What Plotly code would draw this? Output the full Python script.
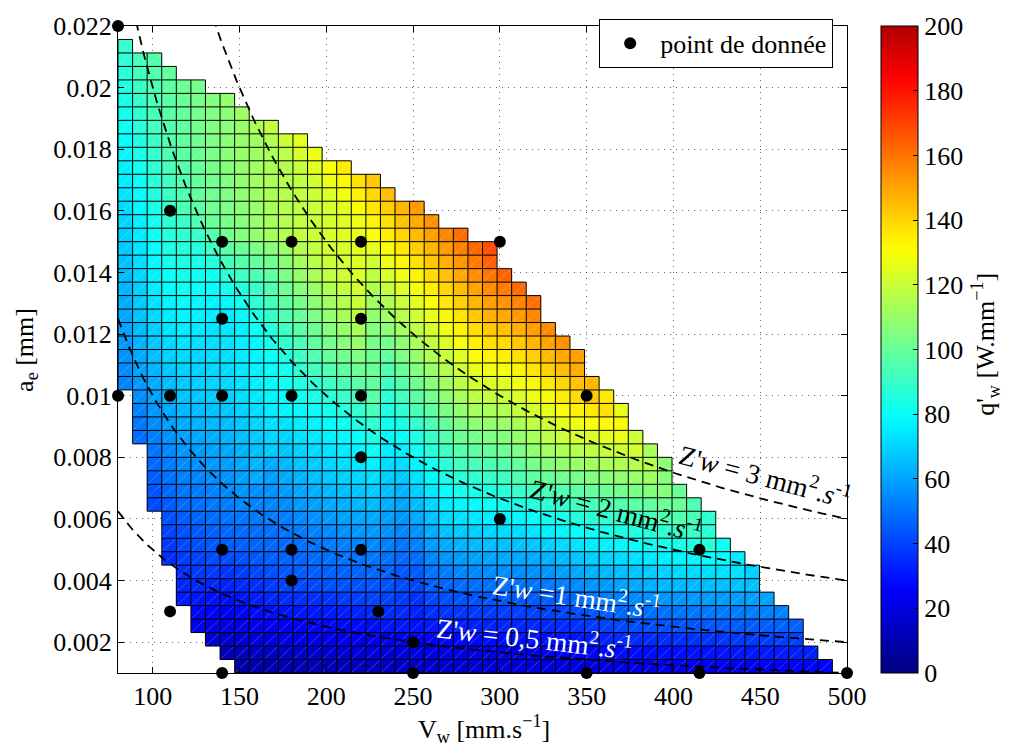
import itertools
import numpy as np
import plotly.graph_objects as go

# ---------------------------------------------------------------
# Measured points: table speed V_w [mm/s], depth of cut a_e [mm],
# and measured specific power q'_w [W/mm]
# ---------------------------------------------------------------
vw_pts = [80, 80, 110, 110, 110, 140, 140, 140, 140, 140,
          180, 180, 180, 180, 220, 220, 220, 220, 220, 230,
          250, 250, 300, 300, 350, 350, 415, 415, 500]
ae_pts = [0.022, 0.010, 0.016, 0.010, 0.003, 0.015, 0.0125, 0.010, 0.005, 0.001,
          0.015, 0.010, 0.005, 0.004, 0.015, 0.0125, 0.010, 0.008, 0.005, 0.003,
          0.002, 0.001, 0.015, 0.006, 0.010, 0.001, 0.005, 0.001, 0.001]
qw_pts = [92, 53, 93, 67, 30, 103, 75, 71, 46, 8,
          118, 83, 49, 45, 128, 121, 97, 78, 55, 39,
          27, 15, 178, 79, 146, 20, 87, 23, 27]

# iso material-removal-rate curves Z'w = V_w * a_e  [mm^2/s]
zw_levels = [0.5, 1, 2, 3]
zw_texts = ["Z'<i>w</i> = 0,5 mm<sup>2</sup>.<i>s</i><sup>-1</sup>",
            "Z'<i>w</i> =1 mm<sup>2</sup>.<i>s</i><sup>-1</sup>",
            "Z'<i>w</i> = 2 mm<sup>2</sup>.<i>s</i><sup>-1</sup>",
            "Z'<i>w</i> = 3 mm<sup>2</sup>.<i>s</i><sup>-1</sup>"]

x_ticks = [100, 150, 200, 250, 300, 350, 400, 450, 500]
y_ticks = [0.002, 0.004, 0.006, 0.008, 0.010, 0.012, 0.014, 0.016, 0.018, 0.020, 0.022]
y_ticktext = ["0.002", "0.004", "0.006", "0.008", "0.01", "0.012",
              "0.014", "0.016", "0.018", "0.02", "0.022"]
cb_ticks = [0, 20, 40, 60, 80, 100, 120, 140, 160, 180, 200]

# pcolor mesh (vertices)
vw_grid = np.linspace(80, 500, 51)
ae_grid = np.linspace(0.001, 0.022, 49)


# ---------- linear interpolation on the Delaunay triangulation ----------
# (raw V_w / a_e coordinates, undefined outside the convex hull)
def delaunay(px, py):
    n = len(px)
    tris = []
    for a, b, c in itertools.combinations(range(n), 3):
        ax, ay, bx, by, cx, cy = px[a], py[a], px[b], py[b], px[c], py[c]
        orient = (bx - ax) * (cy - ay) - (by - ay) * (cx - ax)
        scale = (abs(bx - ax) * abs(cy - ay) + abs(by - ay) * abs(cx - ax))
        if abs(orient) <= 1e-12 * scale or scale == 0:
            continue
        s = 1.0 if orient > 0 else -1.0
        empty = True
        for k in range(n):
            if k in (a, b, c):
                continue
            adx, ady = ax - px[k], ay - py[k]
            bdx, bdy = bx - px[k], by - py[k]
            cdx, cdy = cx - px[k], cy - py[k]
            la, lb, lc = adx * adx + ady * ady, bdx * bdx + bdy * bdy, cdx * cdx + cdy * cdy
            det = (la * (bdx * cdy - cdx * bdy) + lb * (cdx * ady - adx * cdy)
                   + lc * (adx * bdy - bdx * ady))
            perm = (la * (abs(bdx * cdy) + abs(cdx * bdy)) + lb * (abs(cdx * ady) + abs(adx * cdy))
                    + lc * (abs(adx * bdy) + abs(bdx * ady)))
            if det * s > 1e-10 * perm:
                empty = False
                break
        if empty:
            tris.append((a, b, c))
    return tris


triangles = delaunay(vw_pts, ae_pts)


def interp(u, v):
    for t in triangles:
        x1, x2, x3 = (vw_pts[k] for k in t)
        y1, y2, y3 = (ae_pts[k] for k in t)
        den = (y2 - y3) * (x1 - x3) + (x3 - x2) * (y1 - y3)
        l1 = ((y2 - y3) * (u - x3) + (x3 - x2) * (v - y3)) / den
        l2 = ((y3 - y1) * (u - x3) + (x1 - x3) * (v - y3)) / den
        l3 = 1 - l1 - l2
        if min(l1, l2, l3) >= -1e-9:
            return l1 * qw_pts[t[0]] + l2 * qw_pts[t[1]] + l3 * qw_pts[t[2]]
    return np.nan


nv, na = len(vw_grid), len(ae_grid)
vals = np.full((na, nv), np.nan)
for j in range(na):
    for i in range(nv):
        vals[j, i] = interp(vw_grid[i], ae_grid[j])

# a face is drawn when its four vertices are defined; colour from its first vertex
drawn = np.zeros((na - 1, nv - 1), dtype=bool)
for j in range(na - 1):
    for i in range(nv - 1):
        drawn[j, i] = not np.isnan(vals[j:j + 2, i:i + 2]).any()
z_cells = [[float(vals[j, i]) if drawn[j, i] else None for i in range(nv - 1)]
           for j in range(na - 1)]
x_cent = (vw_grid[:-1] + vw_grid[1:]) / 2
y_cent = (ae_grid[:-1] + ae_grid[1:]) / 2

# face edges, merged into runs
ex, ey = [], []
for j in range(na):
    start = None
    for i in range(nv):
        on = i < nv - 1 and ((j < na - 1 and drawn[j, i]) or (j > 0 and drawn[j - 1, i]))
        if on and start is None:
            start = i
        if not on and start is not None:
            ex += [vw_grid[start], vw_grid[i], None]
            ey += [ae_grid[j], ae_grid[j], None]
            start = None
for i in range(nv):
    start = None
    for j in range(na):
        on = j < na - 1 and ((i < nv - 1 and drawn[j, i]) or (i > 0 and drawn[j, i - 1]))
        if on and start is None:
            start = j
        if not on and start is not None:
            ex += [vw_grid[i], vw_grid[i], None]
            ey += [ae_grid[start], ae_grid[j], None]
            start = None

# faint seam of the two triangles forming each face
dx, dy = [], []
for d in range(-(na - 2), nv - 1):
    start = None
    cells = [(j + d, j) for j in range(na - 1) if 0 <= j + d < nv - 1]
    for k, (i, j) in enumerate(cells + [(None, None)]):
        on = i is not None and drawn[j, i]
        if on and start is None:
            start = (i, j)
        if not on and start is not None:
            pi, pj = cells[k - 1]
            dx += [vw_grid[start[0]], vw_grid[pi + 1], None]
            dy += [ae_grid[start[1]], ae_grid[pj + 1], None]
            start = None


# jet colour map spread over 0..210 and shown on 0..200
def jet(f):
    r = min(max(1.5 - abs(4 * f - 3), 0), 1)
    g = min(max(1.5 - abs(4 * f - 2), 0), 1)
    b = min(max(1.5 - abs(4 * f - 1), 0), 1)
    return "rgb(%d,%d,%d)" % (round(255 * r), round(255 * g), round(255 * b))


colorscale = [[v / 200, jet(v / 210)] for v in range(0, 201, 5)]

FONT = "Times New Roman, Liberation Serif, Tinos, DejaVu Serif, serif"
FS = 26
fig = go.Figure()

fig.add_trace(go.Heatmap(
    x=x_cent, y=y_cent, z=z_cells, zmin=0, zmax=200, colorscale=colorscale,
    hoverinfo="skip", showscale=True,
    colorbar=dict(x=1.046, xanchor="left", xpad=0, y=0.5, yanchor="middle",
                  len=1, lenmode="fraction", ypad=0, thickness=37,
                  outlinecolor="black", outlinewidth=1,
                  tickvals=cb_ticks, ticks="inside", ticklen=5, tickcolor="black",
                  tickfont=dict(family=FONT, size=FS, color="black")),
))
fig.add_trace(go.Scatter(x=dx, y=dy, mode="lines", hoverinfo="skip", showlegend=False,
                         line=dict(color="rgba(255,255,255,0.3)", width=0.7)))
fig.add_trace(go.Scatter(x=ex, y=ey, mode="lines", hoverinfo="skip", showlegend=False,
                         line=dict(color="black", width=1)))

vw_line = np.linspace(80, 500, 400)
for zw in zw_levels:
    fig.add_trace(go.Scatter(x=vw_line, y=zw / vw_line, mode="lines", hoverinfo="skip",
                             showlegend=False,
                             line=dict(color="black", width=1.8, dash="9px,6px")))

fig.add_trace(go.Scatter(x=vw_pts, y=ae_pts, mode="markers", name="point de donnée",
                         marker=dict(color="black", size=12), cliponaxis=False))

# rotated labels of the iso-Z'w curves: (V_w, a_e, angle, colour)
label_pos = [(320, 0.00215, 6.5, "white"), (344, 0.00353, 8.5, "white"),
             (367, 0.00630, 15, "black"), (453, 0.00740, 15, "black")]
annotations = []
for txt, (lx, ly, ang, col) in zip(zw_texts, label_pos):
    annotations.append(dict(x=lx, y=ly, xref="x", yref="y", text=txt, showarrow=False,
                            xanchor="center", yanchor="middle", textangle=ang,
                            font=dict(family=FONT, size=27.5, color=col)))

annotations += [
    dict(x=0.502, y=-0.087, xref="paper", yref="paper", showarrow=False,
         xanchor="center", yanchor="middle",
         text="V<sub>w</sub> [mm.s<sup>−1</sup>]", font=dict(family=FONT, size=FS)),
    dict(x=-0.127, y=0.5, xref="paper", yref="paper", showarrow=False, textangle=-90,
         xanchor="center", yanchor="middle",
         text="a<sub>e</sub> [mm]", font=dict(family=FONT, size=FS)),
    dict(x=1.19, y=0.508, xref="paper", yref="paper", showarrow=False, textangle=-90,
         xanchor="center", yanchor="middle",
         text="q'<sub>w</sub> [W.mm<sup>−1</sup>]", font=dict(family=FONT, size=FS)),
]

axis_common = dict(ticks="inside", ticklen=6, tickcolor="black", showline=True,
                   linecolor="black", linewidth=1, mirror="ticks", showgrid=True,
                   gridcolor="rgba(0,0,0,0.6)", griddash="1px,5px", gridwidth=1,
                   zeroline=False, tickfont=dict(family=FONT, size=FS, color="black"))

fig.update_layout(
    width=1017, height=754,
    margin=dict(l=118, r=170, t=17, b=81),
    paper_bgcolor="white", plot_bgcolor="white",
    font=dict(family=FONT, size=FS, color="black"),
    xaxis=dict(range=[80, 500], tickvals=x_ticks, **axis_common),
    yaxis=dict(range=[0.001, 0.022], tickvals=y_ticks, ticktext=y_ticktext, **axis_common),
    legend=dict(x=0.981, xanchor="right", y=1.011, yanchor="top",
                bgcolor="white", bordercolor="black", borderwidth=1,
                font=dict(family=FONT, size=FS), itemwidth=50),
    annotations=annotations,
    showlegend=True,
)

fig.write_html("out.html")
